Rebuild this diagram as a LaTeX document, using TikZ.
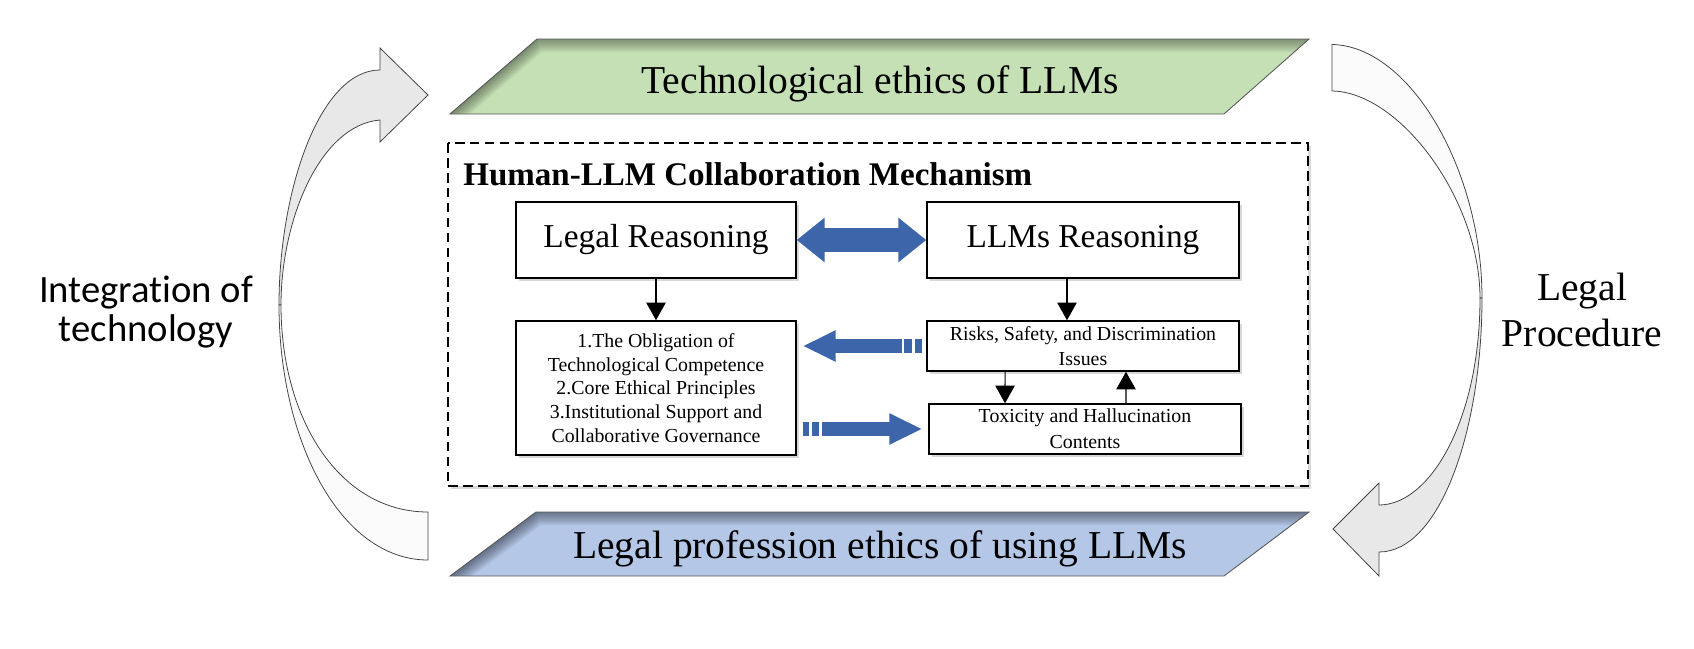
\documentclass[tikz,border=0pt]{standalone}
\usepackage{fontspec}
\setmainfont{Liberation Serif}
\newfontfamily\calibrifont[Ligatures=NoCommon]{Carlito}
\usetikzlibrary{arrows.meta,calc,shadows}

\definecolor{techgreen}{HTML}{C5E0B4}
\definecolor{techgreendark}{HTML}{56624E}
\definecolor{lawblue}{HTML}{B4C7E7}
\definecolor{lawbluedark}{HTML}{3C4556}
\definecolor{arrowblue}{HTML}{3D66AA}
\definecolor{curvegray}{HTML}{E8E8E8}
\definecolor{curvewhite}{HTML}{FBFBFB}
\definecolor{curveline}{HTML}{444444}

\tikzset{
  reasonbox/.style={draw, line width=0.85pt, fill=white, align=center, inner sep=2pt,
                    drop shadow={shadow xshift=1.6pt, shadow yshift=-1.6pt, opacity=0.3}},
  thinarrow/.style={line width=0.6pt, -{Triangle[width=11pt,length=10pt]}},
  bluebar/.style={arrowblue, line width=8.5pt},
  curvearrow/.style={draw=curveline, line width=0.45pt},
}

\begin{document}
\begin{tikzpicture}[x=0.02cm, y=-0.02cm]
        \useasboundingbox (0,0) rectangle (1694,649);

        % curved arrows at the sides
        \filldraw[curvearrow, fill=curvegray]
              (279,305) .. controls (279,190) and (320,70) .. (380,70) -- (380,48) -- (428,95)
              -- (380,142) -- (380,120) .. controls (320,125) and (281,220) .. (281,305) -- cycle;
        \filldraw[curvearrow, fill=curvewhite]
              (279,305) .. controls (279,440) and (340,560) .. (428,560) -- (428,512)
              .. controls (340,512) and (281,420) .. (281,305) -- cycle;
        \filldraw[curvearrow, fill=curvewhite]
              (1332,44.5) .. controls (1410,46) and (1482,170) .. (1482,298) -- (1480,298)
              .. controls (1480,200) and (1400,92) .. (1332,91) -- cycle;
        \filldraw[curvearrow, fill=curvegray]
              (1482,298) .. controls (1482,430) and (1440,552) .. (1379,552) -- (1379,576) -- (1333,529)
              -- (1379,483) -- (1379,505) .. controls (1430,505) and (1480,420) .. (1480,298) -- cycle;

        \node (integ) at (146,312) [font=\calibrifont\fontsize{22}{22.7}\selectfont, align=center] {Integration of\\technology};
        \node (proc)  at (1582,310) [font=\fontsize{22.5}{26}\selectfont, align=center] {Legal\\Procedure};

        % top and bottom bands
        \fill[techgreen] (537,39) -- (1309,39) -- (1224,114) -- (450,114) -- cycle;
        \begin{scope}
          \clip (537,39) -- (1309,39) -- (1224,114) -- (450,114) -- cycle;
          \foreach \k [evaluate=\k as \op using 0.6*(1-\k/14)] in {0,...,13}
            \draw[techgreendark, line width=0.7pt, opacity=\op] (450+1.5*\k,114) -- (537+0.34*\k,39+\k) -- (1309,39+\k);
        \end{scope}
        \draw[gray!70!black, line width=0.5pt] (537,39) -- (1309,39) -- (1224,114) -- (450,114) -- cycle;
        \node (techeth) at (880,93) [anchor=base, font=\fontsize{22.5}{26}\selectfont] {Technological ethics of LLMs};

        \fill[lawblue] (536,512) -- (1309,512) -- (1224,576) -- (450,576) -- cycle;
        \begin{scope}
          \clip (536,512) -- (1309,512) -- (1224,576) -- (450,576) -- cycle;
          \foreach \k [evaluate=\k as \op using 0.6*(1-\k/14)] in {0,...,13}
            \draw[lawbluedark, line width=0.7pt, opacity=\op] (450+1.7*\k,576) -- (536+0.36*\k,512+\k) -- (1309,512+\k);
        \end{scope}
        \draw[gray!70!black, line width=0.5pt] (536,512) -- (1309,512) -- (1224,576) -- (450,576) -- cycle;
        \node (laweth) at (880,558) [anchor=base, font=\fontsize{22.5}{26}\selectfont] {Legal profession ethics of using LLMs};

        % collaboration frame
        \draw[line width=0.85pt, dash pattern=on 5.5pt off 3pt, fill=white,
              drop shadow={shadow xshift=1.6pt, shadow yshift=-1.6pt, opacity=0.3}] (448,143) rectangle (1308,486);
        \node (mechtitle) at (463,185) [anchor=base west, inner sep=0, font=\bfseries\fontsize{18.8}{22}\selectfont] {Human-LLM Collaboration Mechanism};

        \node (legal) at (656,240)  [reasonbox, minimum width=5.6cm, minimum height=1.52cm, font=\fontsize{19}{22}\selectfont] {Legal Reasoning};
        \node (llms)  at (1083,240) [reasonbox, minimum width=6.24cm, minimum height=1.52cm, font=\fontsize{19}{22}\selectfont] {LLMs Reasoning};
        \node (oblig) at (656,388)  [reasonbox, minimum width=5.6cm, minimum height=2.68cm, font=\fontsize{11.3}{13.6}\selectfont]
              {1.The Obligation of\\Technological Competence\\2.Core Ethical Principles\\3.Institutional Support and\\Collaborative Governance};
        \node (risks) at (1083,346) [reasonbox, minimum width=6.24cm, minimum height=1cm, font=\fontsize{11.3}{14.6}\selectfont]
              {Risks, Safety, and Discrimination\\Issues};
        \node (tox)   at (1085,429) [reasonbox, minimum width=6.24cm, minimum height=1cm, font=\fontsize{11.3}{14.6}\selectfont]
              {Toxicity and Hallucination\\Contents};

        \draw[thinarrow] (legal) -- (oblig);
        \draw[thinarrow] ([xshift=-0.32cm]llms.south) -- ([xshift=-0.32cm]risks.north);
        \draw[thinarrow] ([xshift=-1.56cm]risks.south) -- ([xshift=-1.6cm]tox.north);
        \draw[thinarrow] ([xshift=0.82cm]tox.north) -- ([xshift=0.86cm]risks.south);

        \draw[arrowblue, line width=14.2pt, {Triangle[width=24.4pt,length=15.9pt]}-{Triangle[width=24.4pt,length=15.9pt]}] (legal) -- (llms);

        \draw[bluebar, -{Triangle[width=16.5pt,length=18.7pt]}] ($(risks.west)+(-24,0)$) -- ($(oblig.east |- risks.west)+(6,0)$);
        \draw[bluebar] ($(risks.west)+(-22,0)$) -- ($(risks.west)+(-14,0)$);
        \draw[bluebar] ($(risks.west)+(-11,0)$) -- ($(risks.west)+(-4,0)$);

        \draw[bluebar] ($(oblig.east |- tox.west)+(6,0)$) -- ($(oblig.east |- tox.west)+(12,0)$);
        \draw[bluebar] ($(oblig.east |- tox.west)+(15,0)$) -- ($(oblig.east |- tox.west)+(22,0)$);
        \draw[bluebar, -{Triangle[width=16.5pt,length=18.7pt]}] ($(oblig.east |- tox.west)+(25,0)$) -- ($(tox.west)+(-6,0)$);
    \end{tikzpicture}
\end{document}
